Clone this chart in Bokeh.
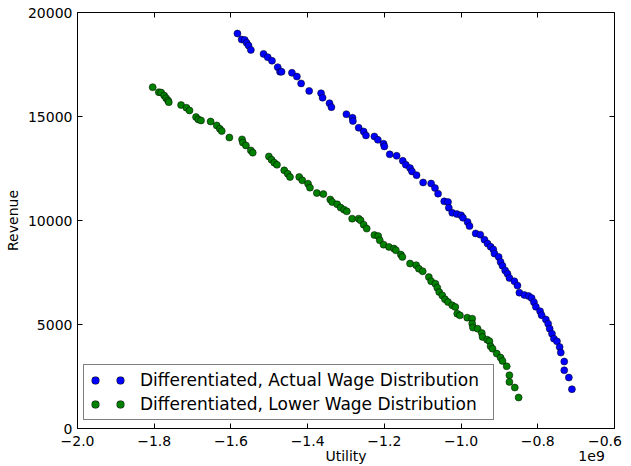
import numpy as np
from bokeh.plotting import figure
from bokeh.models import (Range1d, FixedTicker, LinearAxis, CustomJSTickFormatter,
                          Legend, LegendItem)
from bokeh.embed import file_html
from bokeh.resources import INLINE

# Utility values are in billions (scaled by 1e9 below); revenue in currency units.
utility_actual_bn = [
    -1.583, -1.572, -1.564, -1.559, -1.554, -1.548, -1.515, -1.504, -1.493, -1.478,
    -1.472, -1.468, -1.441, -1.428, -1.417, -1.396, -1.365, -1.361, -1.343, -1.338,
    -1.299, -1.283, -1.282, -1.267, -1.254, -1.248, -1.226, -1.217, -1.202, -1.200,
    -1.186, -1.168, -1.152, -1.144, -1.133, -1.128, -1.116, -1.099, -1.078, -1.068,
    -1.060, -1.044, -1.034, -1.032, -1.023, -1.011, -1.000, -0.995, -0.983, -0.978,
    -0.962, -0.950, -0.939, -0.931, -0.923, -0.916, -0.913, -0.902, -0.897, -0.892,
    -0.885, -0.879, -0.874, -0.861, -0.853, -0.848, -0.835, -0.824, -0.816, -0.810,
    -0.805, -0.794, -0.790, -0.779, -0.773, -0.769, -0.763, -0.758, -0.750, -0.743,
    -0.740, -0.731, -0.731, -0.719, -0.711,
]
revenue_actual = [
    18990, 18700, 18680, 18540, 18410, 18200, 18010, 17850, 17680, 17370,
    17150, 17150, 17100, 16920, 16590, 16230, 16120, 15900, 15640, 15450,
    15110, 14940, 14780, 14460, 14280, 14090, 14040, 13880, 13690, 13560,
    13180, 13110, 12870, 12680, 12520, 12360, 12180, 11830, 11780, 11560,
    11290, 10920, 10890, 10610, 10370, 10310, 10250, 10130, 9930, 9730,
    9380, 9320, 9080, 8890, 8740, 8610, 8410, 8250, 8010, 7820,
    7600, 7440, 7240, 7080, 6870, 6530, 6420, 6370, 6270, 6070,
    5850, 5640, 5450, 5240, 5040, 4800, 4560, 4320, 4190, 3920,
    3650, 3220, 2800, 2450, 1890,
]

utility_lower_bn = [
    -1.804, -1.788, -1.782, -1.774, -1.769, -1.764, -1.762, -1.730, -1.716, -1.708,
    -1.691, -1.685, -1.678, -1.653, -1.637, -1.629, -1.624, -1.604, -1.571, -1.569,
    -1.561, -1.548, -1.543, -1.501, -1.494, -1.487, -1.480, -1.461, -1.452, -1.446,
    -1.422, -1.414, -1.399, -1.394, -1.376, -1.359, -1.341, -1.336, -1.323, -1.314,
    -1.305, -1.298, -1.284, -1.267, -1.262, -1.254, -1.246, -1.226, -1.216, -1.212,
    -1.202, -1.188, -1.175, -1.170, -1.157, -1.153, -1.133, -1.117, -1.110, -1.100,
    -1.084, -1.078, -1.067, -1.062, -1.057, -1.049, -1.042, -1.034, -1.023, -1.015,
    -1.010, -1.003, -0.984, -0.971, -0.971, -0.969, -0.957, -0.946, -0.944, -0.932,
    -0.926, -0.923, -0.918, -0.907, -0.897, -0.892, -0.881, -0.874, -0.874, -0.860,
    -0.850,
]
revenue_lower = [
    16410, 16170, 16150, 16010, 15880, 15770, 15690, 15550, 15420, 15290,
    14970, 14860, 14810, 14760, 14570, 14410, 14300, 13990, 13900, 13750,
    13610, 13370, 13260, 13080, 12920, 12780, 12680, 12410, 12250, 12090,
    12090, 11930, 11770, 11580, 11320, 11270, 11010, 10890, 10780, 10620,
    10520, 10440, 10090, 10090, 10010, 9800, 9610, 9300, 9250, 9050,
    8840, 8730, 8650, 8570, 8360, 8250, 7930, 7850, 7680, 7560,
    7280, 7080, 6960, 6770, 6560, 6400, 6210, 6080, 5920, 5840,
    5520, 5440, 5330, 5280, 5040, 4850, 4800, 4590, 4400, 4270,
    4200, 3950, 3840, 3600, 3410, 3250, 2990, 2560, 2240, 1970,
    1490,
]

x_ticks = [-2.0e9, -1.8e9, -1.6e9, -1.4e9, -1.2e9, -1.0e9, -0.8e9, -0.6e9]
y_ticks = [0, 5000, 10000, 15000, 20000]
x_scale_text = "1e9"
series_labels = ["Differentiated, Actual Wage Distribution",
                 "Differentiated, Lower Wage Distribution"]
series_colors = ["#0000ff", "#008000"]

FONT = "DejaVu Sans"

p = figure(width=631, height=466, output_backend="svg", toolbar_location=None,
           x_range=Range1d(-2.0e9, -0.6e9), y_range=Range1d(0, 20000),
           x_axis_label="Utility", y_axis_label="Revenue",
           min_border_left=77, min_border_right=17, min_border_top=12,
           min_border_bottom=38)
p.grid.visible = False
p.background_fill_color = "white"
p.border_fill_color = "white"
p.outline_line_color = "black"
p.outline_line_width = 1

# Tick values shown in units of 1e9; the scale factor sits under the last tick.
xfmt = CustomJSTickFormatter(
    args=dict(last=x_ticks[-1], scale_text=x_scale_text),
    code="""
const s = (tick / 1e9).toFixed(1).replace('-', '\\u2212');
if (Math.abs(tick - last) < 1) {
    return s + '\\n' + scale_text + '\\u00a0'.repeat(6);
}
return s;
""")


def style_axis(ax, ticks, show_labels):
    ax.ticker = FixedTicker(ticks=ticks)
    ax.major_tick_in = 5
    ax.major_tick_out = 0
    ax.major_tick_line_color = "black"
    ax.minor_tick_line_color = None
    ax.axis_line_color = None
    ax.major_label_text_font = FONT
    ax.axis_label_text_font = FONT
    ax.axis_label_text_font_style = "normal"
    ax.axis_label_text_font_size = "14px"
    ax.axis_label_text_color = "black"
    if show_labels:
        ax.major_label_text_font_size = "14px"
        ax.major_label_text_color = "black"
    else:
        ax.major_label_text_font_size = "1px"
        ax.major_label_text_color = None
        ax.major_label_standoff = 0


xa = p.xaxis[0]
style_axis(xa, x_ticks, True)
xa.formatter = xfmt
xa.major_label_standoff = 4
xa.major_label_text_line_height = 0.96
xa.axis_label_standoff = -19

ya = p.yaxis[0]
style_axis(ya, y_ticks, True)
ya.major_label_standoff = 5
ya.axis_label_standoff = 4

top = LinearAxis()
style_axis(top, x_ticks, False)
p.add_layout(top, "above")
right = LinearAxis()
style_axis(right, y_ticks, False)
p.add_layout(right, "right")

utility_actual = np.array(utility_actual_bn) * 1e9
utility_lower = np.array(utility_lower_bn) * 1e9

p.scatter(utility_actual, revenue_actual, size=7, fill_color=series_colors[0],
          line_color="black", line_width=0.5)
p.scatter(utility_lower, revenue_lower, size=7, fill_color=series_colors[1],
          line_color="black", line_width=0.5)

# Legend handles: two round dots per entry, drawn as dashed round-capped strokes
# (the handle renderers hold a single NaN point, so they draw nothing in the plot)
items = []
for color, label in zip(series_colors, series_labels):
    edge = p.line(x=[np.nan], y=[np.nan], line_color="black", line_width=8,
                  line_cap="round", line_dash="0 25", line_dash_offset=19)
    dot = p.line(x=[np.nan], y=[np.nan], line_color=color, line_width=7,
                 line_cap="round", line_dash="0 25", line_dash_offset=19)
    items.append(LegendItem(label=label, renderers=[edge, dot]))

legend = Legend(items=items, location=(6, 8), border_line_color="black",
                border_line_width=1, background_fill_color="white",
                background_fill_alpha=1.0,
                label_text_font=FONT, label_text_font_size="17px",
                label_text_color="black", label_width=348,
                glyph_width=40, glyph_height=20, padding=5, spacing=4,
                label_standoff=11, margin=0)
p.add_layout(legend)

open("out.html", "w").write(file_html(p, INLINE))
